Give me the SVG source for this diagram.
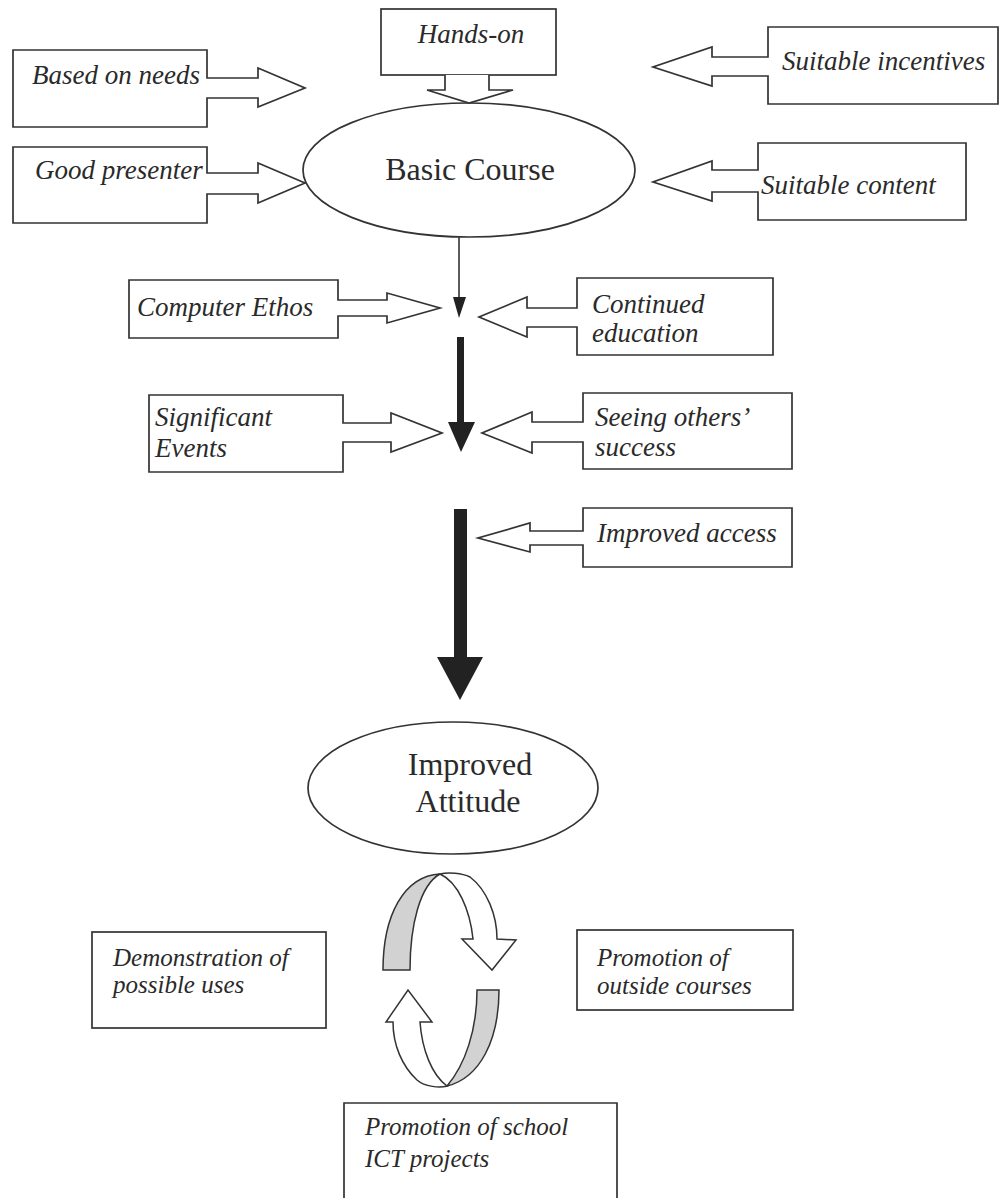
<svg xmlns="http://www.w3.org/2000/svg" width="999" height="1198" viewBox="0 0 999 1198">
<style>
.box{fill:#fff;stroke:#333;stroke-width:1.7;stroke-linejoin:miter}
.it{font-family:"Liberation Serif","Times New Roman",serif;font-style:italic;font-size:27px;fill:#2a2a2a}
.itb{font-family:"Liberation Serif","Times New Roman",serif;font-style:italic;font-size:25px;fill:#2a2a2a}
.rm{font-family:"Liberation Serif","Times New Roman",serif;font-size:32px;fill:#2a2a2a}
.ell{fill:#fff;stroke:#333;stroke-width:1.7}
.dark{fill:#222;stroke:none}
.rib{stroke:#333;stroke-width:1.5;stroke-linejoin:miter}
</style>
<rect width="999" height="1198" fill="#fff"/>

<g id="basic-course">
<ellipse class="ell" cx="469" cy="170" rx="166" ry="67"/>
<text class="rm" x="470" y="180" text-anchor="middle">Basic Course</text>
</g>

<g id="based-on-needs">
<path class="box" d="M207,78 L207,50 L13,50 L13,127 L207,127 L207,98 L258,98 L258,107 L305,88 L258,68 L258,78 Z"/>
<text class="it" x="32" y="84">Based on needs</text>
</g>

<g id="good-presenter">
<path class="box" d="M207,173 L207,147 L13,147 L13,223 L207,223 L207,194 L258,194 L258,203 L305,183 L258,163 L258,173 Z"/>
<text class="it" x="35" y="179">Good presenter</text>
</g>

<g id="hands-on">
<rect class="box" x="381" y="9" width="175" height="66"/>
<path class="box" d="M445,75 L445,90 L427,90 L469,103 L513,90 L489,90 L489,75"/>
<text class="it" x="471" y="43" text-anchor="middle">Hands-on</text>
</g>

<g id="suitable-incentives">
<path class="box" d="M768,57 L768,27 L998,27 L998,104 L768,104 L768,76 L712,76 L712,86 L653,67 L712,47 L712,57 Z"/>
<text class="it" x="782" y="70">Suitable incentives</text>
</g>

<g id="suitable-content">
<path class="box" d="M758,170 L758,143 L966,143 L966,220 L758,220 L758,192 L712,192 L712,201 L653,182 L712,161 L712,170 Z"/>
<text class="it" x="761" y="194">Suitable content</text>
</g>

<g id="computer-ethos">
<path class="box" d="M338,300 L338,280 L129,280 L129,338 L338,338 L338,316 L387,316 L387,323 L440,308 L387,293 L387,300 Z"/>
<text class="it" x="137" y="316">Computer Ethos</text>
</g>

<g id="continued-education">
<path class="box" d="M577,308 L577,278 L773,278 L773,355 L577,355 L577,327 L527,327 L527,337 L479,317 L527,297 L527,308 Z"/>
<text class="it" x="592" y="313">Continued</text>
<text class="it" x="592" y="342">education</text>
</g>

<g id="significant-events">
<path class="box" d="M343,423 L343,395 L149,395 L149,472 L343,472 L343,442 L391,442 L391,452 L442,433 L391,413 L391,423 Z"/>
<text class="it" x="155" y="426">Significant</text>
<text class="it" x="155" y="457">Events</text>
</g>

<g id="seeing-others-success">
<path class="box" d="M583,422 L583,393 L792,393 L792,469 L583,469 L583,442 L532,442 L532,453 L482,433 L532,412 L532,422 Z"/>
<text class="it" x="595" y="426">Seeing others’</text>
<text class="it" x="595" y="456">success</text>
</g>

<g id="improved-access">
<path class="box" d="M583,531 L583,508 L792,508 L792,567 L583,567 L583,545 L530,545 L530,552 L478,538 L530,523 L530,531 Z"/>
<text class="it" x="597" y="542">Improved access</text>
</g>

<g id="improved-attitude">
<ellipse class="ell" cx="453" cy="788" rx="145" ry="66"/>
<text class="rm" x="470" y="775" text-anchor="middle">Improved</text>
<text class="rm" x="468" y="812" text-anchor="middle">Attitude</text>
</g>

<g id="cycle">
<path class="rib" fill="#d2d2d2" d="M383,970 C383,915 404,876 440,874 C420,885 410,925 410,970 Z"/>
<path class="rib" fill="#fff" d="M440,874 C448,872 462,873 470,877 C487,890 497,915 497,939 L516,940 L492,970 L462,939 L473,939 C470,910 458,882 440,874 Z"/>
<path class="rib" fill="#d2d2d2" d="M477,990 L499,990 C499,1040 480,1078 447,1086 C465,1065 477,1030 477,990 Z"/>
<path class="rib" fill="#fff" d="M447,1086 C440,1088 425,1087 417,1080 C402,1066 393,1045 393,1022 L386,1022 L408,990 L432,1022 L420,1022 C422,1050 432,1075 447,1086 Z"/>
</g>

<g id="demonstration">
<rect class="box" x="92" y="932" width="234" height="96"/>
<text class="itb" x="113" y="966">Demonstration of</text>
<text class="itb" x="113" y="993">possible uses</text>
</g>

<g id="outside-courses">
<rect class="box" x="577" y="930" width="216" height="80"/>
<text class="itb" x="597" y="966">Promotion of</text>
<text class="itb" x="597" y="994">outside courses</text>
</g>

<g id="school-projects">
<path class="box" d="M344,1199 L344,1103 L617,1103 L617,1199"/>
<text class="itb" x="365" y="1135">Promotion of school</text>
<text class="itb" x="365" y="1167">ICT projects</text>
</g>

<g id="connectors">
<line x1="459" y1="237" x2="459" y2="300" stroke="#333" stroke-width="1.6"/>
<polygon class="dark" points="453,297 466,297 459,318"/>
<rect class="dark" x="457" y="337" width="7" height="87"/>
<polygon class="dark" points="448,422 475,422 461,452"/>
<rect class="dark" x="454" y="509" width="13" height="150"/>
<polygon class="dark" points="437,657 483,657 460,700"/>
</g>
</svg>
